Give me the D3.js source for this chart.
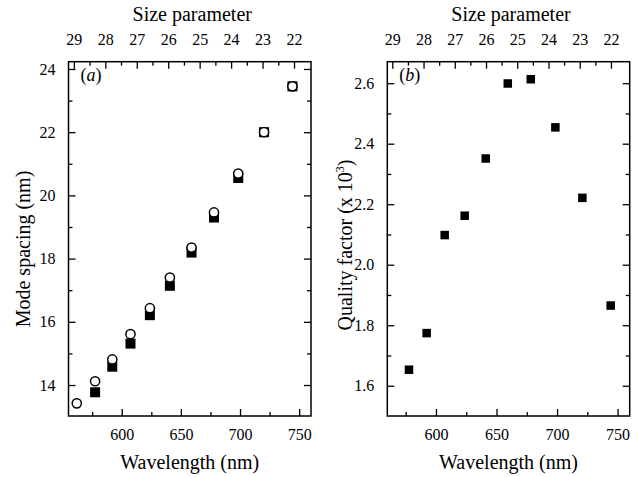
<!DOCTYPE html>
<html>
<head>
<meta charset="utf-8">
<script src="https://cdn.jsdelivr.net/npm/d3@7.9.0/dist/d3.min.js"></script>
<style>
  body { margin: 0; background: #fff; }
  svg text { font-family: "Liberation Serif", "Times New Roman", serif; fill: #000; }
</style>
</head>
<body>
<div id="chart"></div>
<script>
// Panel (a): mode spacing
const wlCircles = [562, 577.5, 592, 607.4, 623.8, 640.7, 659, 678, 698.5, 720.3, 744.3];
const spacingCircles = [13.42, 14.12, 14.81, 15.61, 16.43, 17.40, 18.35, 19.46, 20.69, 22.0, 23.45];
const wlSquares = [577.5, 592, 607.4, 623.8, 640.7, 659, 678, 698.5, 720.3, 744.3];
const spacingSquares = [13.77, 14.58, 15.31, 16.21, 17.14, 18.19, 19.30, 20.55, 22.0, 23.45];

// Panel (b): quality factor
const wlQ = [577.7, 592.3, 607.2, 623.7, 641.1, 659.3, 678.3, 698.6, 720.9, 744.3];
const qFactor = [1.653, 1.774, 2.098, 2.162, 2.351, 2.599, 2.613, 2.454, 2.221, 1.865];

const sizeTicks = [29, 28, 27, 26, 25, 24, 23, 22];
const wlTicks = [600, 650, 700, 750];
const spacingTicks = [14, 16, 18, 20, 22, 24];
const qTicks = [1.6, 1.8, 2.0, 2.2, 2.4, 2.6];

const W = 638, H = 477;
const svg = d3.select("#chart").append("svg")
    .attr("width", W)
    .attr("height", H);

const plotTop = 61.7, plotBottom = 416;
const majorLen = 7, minorLen = 4;

function drawPanel(opt) {
    const g = svg.append("g");
    const x = d3.scaleLinear().domain(opt.xDomain).range([opt.left, opt.right]);
    const xs = d3.scaleLinear().domain(opt.sDomain).range([opt.left, opt.right]);
    const y = d3.scaleLinear().domain(opt.yDomain).range([plotBottom, plotTop]);

    // bottom axis, ticks inward
    g.append("g")
        .attr("transform", `translate(0,${plotBottom})`)
        .call(d3.axisBottom(x).tickValues(opt.xMinor).tickSize(-minorLen).tickFormat(""))
        .call(a => a.select(".domain").remove());
    g.append("g")
        .attr("transform", `translate(0,${plotBottom})`)
        .call(d3.axisBottom(x).tickValues(wlTicks).tickSize(-majorLen).tickPadding(majorLen + 6))
        .call(a => a.select(".domain").remove())
        .call(a => a.selectAll("text").style("font-size", "16px"));

    // top axis (size parameter), ticks inward
    g.append("g")
        .attr("transform", `translate(0,${plotTop})`)
        .call(d3.axisTop(xs).tickValues(d3.range(22.5, 29, 1)).tickSize(-minorLen).tickFormat(""))
        .call(a => a.select(".domain").remove());
    g.append("g")
        .attr("transform", `translate(0,${plotTop})`)
        .call(d3.axisTop(xs).tickValues(sizeTicks).tickSize(-majorLen).tickPadding(majorLen + 10))
        .call(a => a.select(".domain").remove())
        .call(a => a.selectAll("text").style("font-size", "16px"));

    // left axis, ticks inward
    g.append("g")
        .attr("transform", `translate(${opt.left},0)`)
        .call(d3.axisLeft(y).tickValues(opt.yMinor).tickSize(-minorLen).tickFormat(""))
        .call(a => a.select(".domain").remove());
    g.append("g")
        .attr("transform", `translate(${opt.left},0)`)
        .call(d3.axisLeft(y).tickValues(opt.yTicks).tickSize(-majorLen).tickPadding(majorLen + 6)
            .tickFormat(opt.yFormat))
        .call(a => a.select(".domain").remove())
        .call(a => a.selectAll("text").style("font-size", "16px"));

    // right axis, ticks inward, no labels
    g.append("g")
        .attr("transform", `translate(${opt.right},0)`)
        .call(d3.axisRight(y).tickValues(opt.yMinor).tickSize(-minorLen).tickFormat(""))
        .call(a => a.select(".domain").remove());
    g.append("g")
        .attr("transform", `translate(${opt.right},0)`)
        .call(d3.axisRight(y).tickValues(opt.yTicks).tickSize(-majorLen).tickFormat(""))
        .call(a => a.select(".domain").remove());

    g.selectAll(".tick line").attr("stroke", "#000").attr("stroke-width", 1.3);

    // frame
    g.append("rect")
        .attr("x", opt.left)
        .attr("y", plotTop)
        .attr("width", opt.right - opt.left)
        .attr("height", plotBottom - plotTop)
        .attr("fill", "none")
        .attr("stroke", "#000")
        .attr("stroke-width", 1.5);

    const cx = (opt.left + opt.right) / 2;
    g.append("text")
        .attr("x", cx + 2.5)
        .attr("y", 21)
        .attr("text-anchor", "middle")
        .style("font-size", "20px")
        .text("Size parameter");
    g.append("text")
        .attr("x", cx)
        .attr("y", 469)
        .attr("text-anchor", "middle")
        .style("font-size", "20px")
        .text("Wavelength (nm)");

    const yl = g.append("text")
        .attr("transform", `translate(${opt.yLabelX},${opt.yLabelY}) rotate(-90)`)
        .attr("text-anchor", "middle")
        .style("font-size", "20px");
    opt.yLabel(yl);

    const pl = g.append("text")
        .attr("x", opt.left + 12)
        .attr("y", 81)
        .style("font-size", "18px");
    pl.append("tspan").text("(");
    pl.append("tspan").style("font-style", "italic").text(opt.tag);
    pl.append("tspan").text(")");

    return { g, x, y };
}

// Panel (a)
const pa = drawPanel({
    left: 68.5, right: 311,
    xDomain: [555, 760], sDomain: [29.17, 21.46],
    yDomain: [13.02, 24.23],
    xMinor: [575, 625, 675, 725],
    yTicks: spacingTicks, yMinor: [15, 17, 19, 21, 23],
    yFormat: d3.format("d"),
    yLabelX: 30, yLabelY: 249, tag: "a",
    yLabel: t => t.text("Mode spacing (nm)")
});

pa.g.append("g").selectAll("rect")
    .data(wlSquares)
    .join("rect")
    .attr("x", (d, i) => pa.x(d) - 5)
    .attr("y", (d, i) => pa.y(spacingSquares[i]) - 5)
    .attr("width", 10)
    .attr("height", 10)
    .attr("fill", "#000");

pa.g.append("g").selectAll("circle")
    .data(wlCircles)
    .join("circle")
    .attr("cx", d => pa.x(d))
    .attr("cy", (d, i) => pa.y(spacingCircles[i]))
    .attr("r", 4.6)
    .attr("fill", "#fff")
    .attr("stroke", "#000")
    .attr("stroke-width", 1.5);

// Panel (b)
const pb = drawPanel({
    left: 387.3, right: 629.7,
    xDomain: [559.8, 760], sDomain: [29.16, 21.4],
    yDomain: [1.5, 2.671],
    xMinor: [575, 625, 675, 725],
    yTicks: qTicks, yMinor: [1.7, 1.9, 2.1, 2.3, 2.5],
    yFormat: d3.format(".1f"),
    yLabelX: 352, yLabelY: 245, tag: "b",
    yLabel: t => {
        t.append("tspan").text("Quality factor (x 10");
        t.append("tspan").attr("dy", -8).style("font-size", "12px").text("3");
        t.append("tspan").attr("dy", 8).text(")");
    }
});

pb.g.append("g").selectAll("rect")
    .data(wlQ)
    .join("rect")
    .attr("x", d => pb.x(d) - 4.25)
    .attr("y", (d, i) => pb.y(qFactor[i]) - 4.25)
    .attr("width", 8.5)
    .attr("height", 8.5)
    .attr("fill", "#000");
</script>
</body>
</html>
